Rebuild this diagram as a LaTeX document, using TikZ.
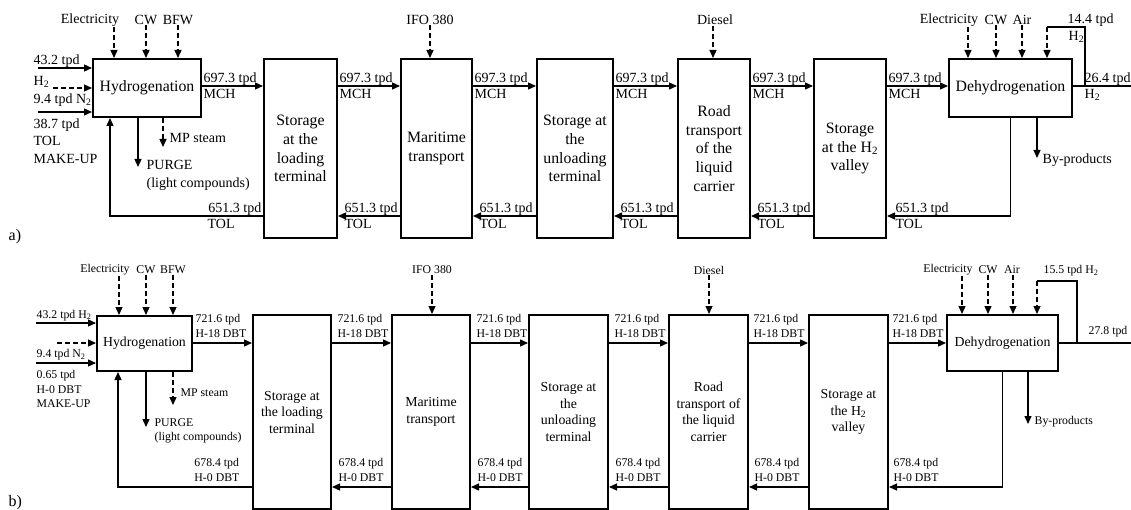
\documentclass[tikz,border=0pt]{standalone}
\usepackage{fontspec}
\setmainfont{Liberation Serif}
\usetikzlibrary{arrows.meta}

\newcommand{\fsboxa}{\fontsize{15.8}{18.7}\selectfont}
\newcommand{\fslbla}{\fontsize{14}{17.5}\selectfont}
\newcommand{\fsboxb}{\fontsize{13.8}{16.5}\selectfont}
\newcommand{\fslblb}{\fontsize{11.8}{14.5}\selectfont}
\newcommand{\htwo}{H\textsubscript{2}}

\begin{document}
\begin{tikzpicture}[x=1pt, y=-1pt, line width=1.3pt,
    box/.style={draw, line width=2pt, inner sep=0pt, align=center},
    flow/.style={-{Triangle[length=8pt, width=7pt]}},
    util/.style={flow, dash pattern=on 5pt off 3pt},
    lbl/.style={inner sep=0pt, align=left},
    tagup/.style={lbl, anchor=base west, yshift=3pt},
    tagdn/.style={lbl, anchor=north west, yshift=-3pt},
    tagtwo/.style={lbl, anchor=south west, yshift=5pt}]

  \useasboundingbox (0,0) rectangle (1131,510);

  % ===== a) MCH / TOL chain =====
  \begin{scope}[font=\fslbla]
  % process blocks
  \node[box, font=\fsboxa, minimum width=108pt, minimum height=58pt] (hydA) at (147,88) {Hydrogenation};
  \node[box, font=\fsboxa, minimum width=73pt, minimum height=179pt] (stoLA) at (300.5,148.5) {Storage\\at the\\loading\\terminal};
  \node[box, font=\fsboxa, minimum width=71pt, minimum height=179pt] (marA) at (436.5,148.5) {Maritime\\transport};
  \node[box, font=\fsboxa, minimum width=76pt, minimum height=179pt] (stoUA) at (575,148.5) {Storage at\\the\\unloading\\terminal};
  \node[box, font=\fsboxa, minimum width=72pt, minimum height=179pt] (roadA) at (714,148.5) {Road\\transport\\of the\\liquid\\carrier};
  \node[box, font=\fsboxa, minimum width=72pt, minimum height=179pt] (stoVA) at (850,148.5) {Storage\\at the \htwo\\valley};
  \node[box, font=\fsboxa, minimum width=123pt, minimum height=58pt] (dehA) at (1010.5,88) {Dehydrogenation};

  % MCH forward
  \coordinate (fA) at (0,86);
  \coordinate (rA) at (0,216);
  \draw[flow] (hydA.east |- fA) -- (stoLA.west |- fA)
    node[pos=0, tagup, xshift=1pt] {697.3 tpd} node[pos=0, tagdn, xshift=1pt] {MCH};
  \draw[flow] (stoLA.east |- fA) -- (marA.west |- fA)
    node[pos=0, tagup, xshift=1pt] {697.3 tpd} node[pos=0, tagdn, xshift=1pt] {MCH};
  \draw[flow] (marA.east |- fA) -- (stoUA.west |- fA)
    node[pos=0, tagup, xshift=1pt] {697.3 tpd} node[pos=0, tagdn, xshift=1pt] {MCH};
  \draw[flow] (stoUA.east |- fA) -- (roadA.west |- fA)
    node[pos=0, tagup, xshift=1pt] {697.3 tpd} node[pos=0, tagdn, xshift=1pt] {MCH};
  \draw[flow] (roadA.east |- fA) -- (stoVA.west |- fA)
    node[pos=0, tagup, xshift=1pt] {697.3 tpd} node[pos=0, tagdn, xshift=1pt] {MCH};
  \draw[flow] (stoVA.east |- fA) -- (dehA.west |- fA)
    node[pos=0, tagup, xshift=1pt] {697.3 tpd} node[pos=0, tagdn, xshift=1pt] {MCH};

  % TOL back
  \draw[flow] (stoLA.west |- rA) -| ([xshift=-37pt]hydA.south)
    node[pos=0, lbl, anchor=base east, yshift=3pt, xshift=-1pt] {651.3 tpd}
    node[pos=0, tagdn, xshift=-56pt] {TOL};
  \draw[flow] (marA.west |- rA) -- (stoLA.east |- rA)
    node[pos=1, tagup, xshift=6pt] {651.3 tpd} node[pos=1, tagdn, xshift=6pt] {TOL};
  \draw[flow] (stoUA.west |- rA) -- (marA.east |- rA)
    node[pos=1, tagup, xshift=6pt] {651.3 tpd} node[pos=1, tagdn, xshift=6pt] {TOL};
  \draw[flow] (roadA.west |- rA) -- (stoUA.east |- rA)
    node[pos=1, tagup, xshift=6pt] {651.3 tpd} node[pos=1, tagdn, xshift=6pt] {TOL};
  \draw[flow] (stoVA.west |- rA) -- (roadA.east |- rA)
    node[pos=1, tagup, xshift=6pt] {651.3 tpd} node[pos=1, tagdn, xshift=6pt] {TOL};
  \draw[flow] (dehA.south) |- (stoVA.east |- rA)
    node[pos=1, tagup, xshift=8pt] {651.3 tpd} node[pos=1, tagdn, xshift=8pt] {TOL};

  % feeds to hydrogenation
  \coordinate (h2A) at (38,68);
  \coordinate (n2A) at (53,88);
  \coordinate (tolA) at (38,112);
  \draw[flow] (h2A) -- (h2A -| hydA.west)
    node[pos=0, tagup, xshift=-5pt] {43.2 tpd}
    node[pos=0, lbl, anchor=north west, xshift=-5pt, yshift=-8pt] {\htwo};
  \draw[util] (n2A) -- (n2A -| hydA.west);
  \node[lbl, anchor=north west] (n2Al) at (33,93) {9.4 tpd N\textsubscript{2}};
  \draw[flow] (tolA) -- (tolA -| hydA.west)
    node[pos=0, lbl, anchor=north west, xshift=-5pt, yshift=-6pt] {38.7 tpd\\TOL\\MAKE-UP};

  % utilities
  \node[lbl] (elA) at (90,20) {Electricity};
  \node[lbl] (cwA) at (146,20) {CW};
  \node[lbl] (bfwA) at (178,20) {BFW};
  \node[lbl] (ifoA) at (430,20) {IFO 380};
  \node[lbl] (dslA) at (715,20) {Diesel};
  \node[lbl] (elA2) at (949,20) {Electricity};
  \node[lbl] (cwA2) at (996,20) {CW};
  \node[lbl] (airA) at (1022,20) {Air};
  \draw[util] ([xshift=24pt]elA.south) -- ([xshift=24pt]elA.south |- hydA.north);
  \draw[util] (cwA.south) -- (cwA.south |- hydA.north);
  \draw[util] (bfwA.south) -- (bfwA.south |- hydA.north);
  \draw[util] (ifoA.south) -- (ifoA.south |- marA.north);
  \draw[util] ([xshift=-2pt]dslA.south) -- ([xshift=-2pt]dslA.south |- roadA.north);
  \draw[util] ([xshift=19pt]elA2.south) -- ([xshift=19pt]elA2.south |- dehA.north);
  \draw[util] (cwA2.south) -- (cwA2.south |- dehA.north);
  \draw[util] (airA.south) -- (airA.south |- dehA.north);

  % hydrogenation outlets
  \coordinate (pgA) at (138,167);
  \coordinate (msA) at (163,147);
  \draw[flow] (pgA |- hydA.south) -- (pgA);
  \draw[util] (msA |- hydA.south) -- (msA);
  \node[lbl, anchor=north west] (pgAl) at (146,160) {PURGE\\(light compounds)};
  \node[lbl, anchor=west] (msAl) at (169,138) {MP steam};

  % H2 product and recycle
  \coordinate (outA) at (1131,86);
  \coordinate (jA) at (1085,86);
  \coordinate (rcA) at (1047,27);
  \draw (dehA.east |- outA) -- (outA)
    node[pos=0, tagup, xshift=11pt] {26.4 tpd} node[pos=0, tagdn, xshift=11pt] {\htwo};
  \draw (jA) |- (rcA);
  \draw[util] (rcA) -- (rcA |- dehA.north);
  \node[lbl, anchor=west] (rcAl) at (1067,20) {14.4 tpd};
  \node[lbl, anchor=west] (rcAh) at (1068,37) {\htwo};

  % by-products
  \coordinate (bpA) at (1037,158);
  \draw[flow] (bpA |- dehA.south) -- (bpA)
    node[pos=1, lbl, anchor=west, xshift=5pt, yshift=-2pt] {By-products};

  \node[lbl, anchor=west, font=\fontsize{16}{18}\selectfont] (capA) at (8,237) {a)};
  \end{scope}

  % ===== b) DBT chain =====
  \begin{scope}[font=\fslblb]
  % process blocks
  \node[box, font=\fsboxb, minimum width=95pt, minimum height=55pt] (hydB) at (144.5,343.5) {Hydrogenation};
  \node[box, font=\fsboxb, minimum width=78pt, minimum height=194pt] (stoLB) at (292,412) {Storage at\\the loading\\terminal};
  \node[box, font=\fsboxb, minimum width=78pt, minimum height=194pt] (marB) at (431,412) {Maritime\\transport};
  \node[box, font=\fsboxb, minimum width=79pt, minimum height=194pt] (stoUB) at (568.5,412) {Storage at\\the\\unloading\\terminal};
  \node[box, font=\fsboxb, minimum width=79pt, minimum height=194pt] (roadB) at (708.5,412) {Road\\transport of\\the liquid\\carrier};
  \node[box, font=\fsboxb, minimum width=79pt, minimum height=194pt] (stoVB) at (848.5,412) {Storage at\\the \htwo\\valley};
  \node[box, font=\fsboxb, minimum width=111pt, minimum height=56pt] (dehB) at (1002.5,343) {Dehydrogenation};

  % H-18 DBT forward
  \coordinate (fB) at (0,343);
  \coordinate (rB) at (0,487);
  \draw[flow] (hydB.east |- fB) -- (stoLB.west |- fB)
    node[pos=0, tagtwo, xshift=2pt] {721.6 tpd\\H-18 DBT};
  \draw[flow] (stoLB.east |- fB) -- (marB.west |- fB)
    node[pos=0, tagtwo, xshift=5pt] {721.6 tpd\\H-18 DBT};
  \draw[flow] (marB.east |- fB) -- (stoUB.west |- fB)
    node[pos=0, tagtwo, xshift=5pt] {721.6 tpd\\H-18 DBT};
  \draw[flow] (stoUB.east |- fB) -- (roadB.west |- fB)
    node[pos=0, tagtwo, xshift=5pt] {721.6 tpd\\H-18 DBT};
  \draw[flow] (roadB.east |- fB) -- (stoVB.west |- fB)
    node[pos=0, tagtwo, xshift=4pt] {721.6 tpd\\H-18 DBT};
  \draw[flow] (stoVB.east |- fB) -- (dehB.west |- fB)
    node[pos=0, tagtwo, xshift=3pt] {721.6 tpd\\H-18 DBT};

  % H-0 DBT back
  \draw[flow] (stoLB.west |- rB) -| ([xshift=-26.5pt]hydB.south)
    node[pos=0, lbl, anchor=south east, yshift=5pt, xshift=-12pt] {678.4 tpd\\H-0 DBT};
  \draw[flow] (marB.west |- rB) -- (stoLB.east |- rB)
    node[pos=1, tagtwo, xshift=6pt] {678.4 tpd\\H-0 DBT};
  \draw[flow] (stoUB.west |- rB) -- (marB.east |- rB)
    node[pos=1, tagtwo, xshift=6pt] {678.4 tpd\\H-0 DBT};
  \draw[flow] (roadB.west |- rB) -- (stoUB.east |- rB)
    node[pos=1, tagtwo, xshift=6pt] {678.4 tpd\\H-0 DBT};
  \draw[flow] (stoVB.west |- rB) -- (roadB.east |- rB)
    node[pos=1, tagtwo, xshift=5pt] {678.4 tpd\\H-0 DBT};
  \draw[flow] (dehB.south) |- (stoVB.east |- rB)
    node[pos=1, tagtwo, xshift=4pt] {678.4 tpd\\H-0 DBT};

  % feeds to hydrogenation
  \coordinate (h2B) at (36,323);
  \coordinate (n2B) at (57,343);
  \coordinate (dbtB) at (36,363);
  \draw[flow] (h2B) -- (h2B -| hydB.west)
    node[pos=0, lbl, anchor=base west, yshift=5pt] {43.2 tpd \htwo};
  \draw[util] (n2B) -- (n2B -| hydB.west);
  \node[lbl, anchor=north west] (n2Bl) at (36,349) {9.4 tpd N\textsubscript{2}};
  \draw[flow] (dbtB) -- (dbtB -| hydB.west)
    node[pos=0, lbl, anchor=north west, yshift=-7pt] {0.65 tpd\\H-0 DBT\\MAKE-UP};

  % utilities
  \node[lbl] (elB) at (105,270) {Electricity};
  \node[lbl] (cwB) at (146,270) {CW};
  \node[lbl] (bfwB) at (173,270) {BFW};
  \node[lbl] (ifoB) at (432,270) {IFO 380};
  \node[lbl] (dslB) at (709,270) {Diesel};
  \node[lbl] (elB2) at (948,270) {Electricity};
  \node[lbl] (cwB2) at (988,270) {CW};
  \node[lbl] (airB) at (1012,270) {Air};
  \draw[util] ([xshift=14pt]elB.south) -- ([xshift=14pt]elB.south |- hydB.north);
  \draw[util] (cwB.south) -- (cwB.south |- hydB.north);
  \draw[util] (bfwB.south) -- (bfwB.south |- hydB.north);
  \draw[util] (ifoB.south) -- (ifoB.south |- marB.north);
  \draw[util] (dslB.south) -- (dslB.south |- roadB.north);
  \draw[util] ([xshift=14pt]elB2.south) -- ([xshift=14pt]elB2.south |- dehB.north);
  \draw[util] (cwB2.south) -- (cwB2.south |- dehB.north);
  \draw[util] ([xshift=1pt]airB.south) -- ([xshift=1pt]airB.south |- dehB.north);

  % hydrogenation outlets
  \coordinate (pgB) at (146,427);
  \coordinate (msB) at (173,405);
  \draw[flow] (pgB |- hydB.south) -- (pgB);
  \draw[util] (msB |- hydB.south) -- (msB);
  \node[lbl, anchor=north west] (pgBl) at (154,418) {PURGE\\(light compounds)};
  \node[lbl, anchor=west] (msBl) at (180,393) {MP steam};

  % H2 product and recycle
  \coordinate (outB) at (1131,343);
  \coordinate (jB) at (1077,343);
  \coordinate (rcB) at (1037,281);
  \draw (dehB.east |- outB) -- (outB)
    node[pos=0, tagtwo, xshift=29pt] {27.8 tpd};
  \draw (jB) |- (rcB);
  \draw[util] (rcB) -- (rcB |- dehB.north);
  \node[lbl, anchor=west] (rcBl) at (1043,271) {15.5 tpd \htwo};

  % by-products
  \coordinate (bpB) at (1028,424);
  \draw[flow] (bpB |- dehB.south) -- (bpB)
    node[pos=1, lbl, anchor=west, xshift=6pt, yshift=2pt] {By-products};

  \node[lbl, anchor=west, font=\fontsize{16}{18}\selectfont] (capB) at (8,503) {b)};
  \end{scope}

\end{tikzpicture}
\end{document}
